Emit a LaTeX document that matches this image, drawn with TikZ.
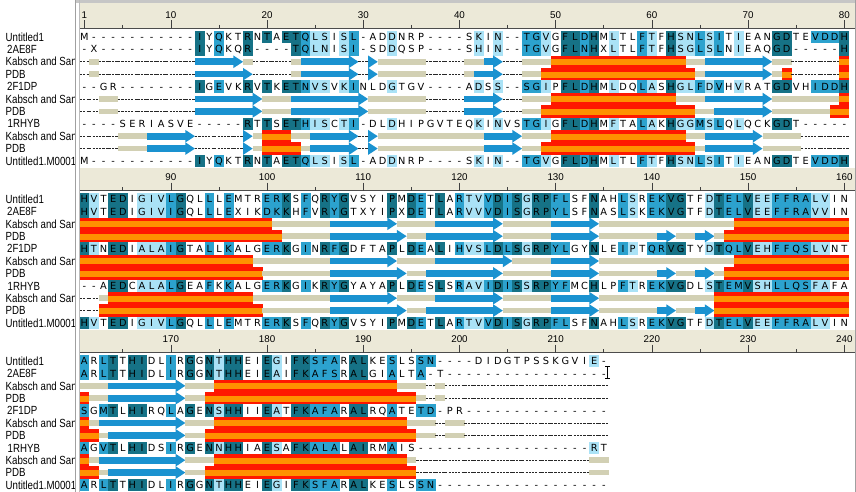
\documentclass[tikz,border=0pt]{standalone}
\usepackage{fontspec}
\setmainfont{DejaVu Sans}
\newfontfamily\labfont[FakeStretch=0.82]{Liberation Sans}
\newfontfamily\numfont{Liberation Sans}
\newfontfamily\resfont{DejaVu Sans}
\definecolor{cdark}{RGB}{22,114,134}
\definecolor{cmed}{RGB}{44,162,206}
\definecolor{clight}{RGB}{170,226,246}
\definecolor{ctan}{RGB}{210,208,180}
\definecolor{cstrand}{RGB}{26,146,208}
\definecolor{chred}{RGB}{255,24,0}
\definecolor{chor}{RGB}{255,145,0}
\definecolor{cruler}{RGB}{236,233,216}
\definecolor{cframe}{RGB}{160,160,160}
\makeatletter
\newcount\rcol
\def\cellw{9.62}
\def\xleft{79.5}
% per-column colour codes (0 none, 1 light, 2 medium, 3 dark)
\def\setcolours#1{\rcol=0 \setcol@loop#1\relax}
\def\setcol@loop#1{\ifx\relax#1\else\advance\rcol by 1 \expandafter\edef\csname cc@\the\rcol\endcsname{#1}\expandafter\setcol@loop\fi}
% residue row
\def\seqrow#1#2{\def\rowy{#1}\rcol=0 \seq@loop#2\relax}
\def\seq@loop#1{\ifx\relax#1\else\advance\rcol by 1 \seq@cell{#1}\expandafter\seq@loop\fi}
\def\seq@cell#1{%
  \pgfmathsetmacro\cx{\xleft+(\the\rcol-1)*\cellw}%
  \if-#1\else
    \ifcsname cc@\the\rcol\endcsname\edef\cc{\csname cc@\the\rcol\endcsname}\else\def\cc{0}\fi
    \ifcase\cc\relax
    \or\fill[clight] (\cx,\rowy-6.2) rectangle (\cx+9.9,\rowy+6.2);
    \or\fill[cmed] (\cx,\rowy-6.2) rectangle (\cx+9.9,\rowy+6.2);
    \or\fill[cdark] (\cx,\rowy-6.2) rectangle (\cx+9.9,\rowy+6.2);
    \fi
  \fi
  \node[res] at (\cx+4.81,\rowy+3.6) {#1};}
% secondary structure row
\def\ssrow#1#2{\def\rowy{#1}\rcol=0 \ss@loop#2\relax}
\def\ss@loop#1{\ifx\relax#1\else\advance\rcol by 1 \ss@cell#1\expandafter\ss@loop\fi}
\def\ss@cell#1{%
  \pgfmathsetmacro\cx{\xleft+(\the\rcol-1)*\cellw}%
  \if-#1\draw[gapdash] (\cx,\rowy) -- (\cx+\cellw,\rowy);\fi
  \if C#1\fill[ctan] (\cx,\rowy-2.8) rectangle (\cx+9.9,\rowy+2.8);\fi
  \if E#1\fill[cstrand] (\cx,\rowy-3.3) rectangle (\cx+9.9,\rowy+3.3);\fi
  \if A#1\fill[cstrand] (\cx,\rowy-6.3) -- (\cx+\cellw,\rowy) -- (\cx,\rowy+6.3) -- cycle;\fi
  \if H#1\fill[chred] (\cx,\rowy-6.25) rectangle (\cx+9.9,\rowy+6.25);\fill[chor] (\cx,\rowy-2.6) rectangle (\cx+9.9,\rowy+3.4);\fi}
\makeatother
\newcommand\alruler[3]{%
  \fill[cruler] (79.5,#1) rectangle (856,#2);
  \draw[draw=black!70, line width=0.7pt] (79.5,#2) -- (856,#2);
  \foreach \k in {1,...,80}{%
    \pgfmathtruncatemacro\g{\k+#3}%
    \pgfmathsetmacro\tx{79.5+(\k-0.5)*9.62}%
    \pgfmathtruncatemacro\mten{mod(\g,10)}%
    \pgfmathtruncatemacro\mfive{mod(\g,5)}%
    \ifnum\mten=0 \def\lng{1}\else\ifnum\g=1 \def\lng{1}\else\def\lng{0}\fi\fi
    \ifnum\lng=1
      \draw[tickline] (\tx,#2-8) -- (\tx,#2);
      \node[rnum] at (\tx,#2-10) {\g};
    \else\ifnum\mfive=0
      \draw[tickline] (\tx,#2-3.5) -- (\tx,#2);
    \fi\fi}}
\newcommand\alabels[1]{%
  \foreach \t/\dx [count=\i from 0] in {Untitled1/5.5, 2AE8F/7, Kabsch and Sander/5.5, PDB/5.5, 2F1DP/7, Kabsch and Sander/5.5, PDB/5.5, 1RHYB/7.5, Kabsch and Sander/5.5, PDB/5.5, Untitled1.M0001/5.5}{%
    \node[lab] (lab#1\i) at (\dx,#1+12.4*\i+4.2) {\t};}}
\begin{document}
\begin{tikzpicture}[x=1pt,y=-1pt,
  res/.style={font=\resfont\fontsize{9.8}{10}\selectfont, inner sep=0pt, anchor=base},
  lab/.style={font=\labfont\fontsize{11.8}{12}\selectfont, inner sep=0pt, anchor=base west},
  rnum/.style={font=\numfont\fontsize{9.8}{10}\selectfont, inner sep=0pt, anchor=base},
  tickline/.style={line width=0.7pt, draw=black!75},
  gapdash/.style={line width=0.85pt, dash pattern=on 2.3pt off 1.2pt, draw=black!85}]
\useasboundingbox (0,0) rectangle (856,492);
\fill[white] (0,0) rectangle (856,492);
% frame
\fill[cframe!60] (75,0) rectangle (856,3);
% ---------------- block 1 ----------------
\alruler{3}{28.5}{0}
\setcolours{0000000000 0030200303 0332110120 0010000000 0101002210 3323010021 0311212010 0033002223}
\seqrow{37}{M-----------IYQKTRNTAETQLSISL-ADDNRP----SKIN--TGVGFLDHMLTLFTFHSNLSITIEANGDTEVDDH}
\seqrow{49.4}{-X----------IYQKQR----TQLNISI-SDDQSP----SHIN--TGVGFLNHXLTLFTFHSGLSLNIEAQGD-----H}
\ssrow{61.8}{-C----------EEEEAC----CEEEEEA-ACCCCC----CCEA--CCCHHHHHHHHHHHHHHCCEEEEEEACC-----H}
\ssrow{74.2}{-C----------EEEEEA----CEEEEEA-ACCCCC----CEEA--CCHHHHHHHHHHHHHHHHCEEEEEEACH-----H}
\seqrow{86.6}{--GR--------IGEVKRVTKETNVSVKINLDGTGV----ADSS--SGIPFLDHMLDQLASHGLFDVHVRATGDVHIDDH}
\ssrow{99}{--CC--------EEEEEEACCCEEEEEEEACCCCCC----EEEA--CCCHHHHHHHHHHHHHCCCEEEEEEACCCCCCCH}
\ssrow{111.4}{--CC--------EEEEEEACCCEEEEEEEACCCCCC----EEEA--CCHHHHHHHHHHHHHHHHCCEEEEEACCCCCCHH}
\seqrow{123.8}{----SERIASVE-----RTTSETHISCTI-DLDHIPGVTEQKINVSTGIGFLDHMFTALAKHGGMSLQLQCKGDT-----}
\ssrow{136.2}{----CCCEEEEA-----ACHHHCCEEEEA-ACCCCCCCCCCCEEEACCCHHHHHHHHHHHHHHCCEEEEEACCCC-----}
\ssrow{148.6}{----CCCEEEEA-----ACHHHHCEEEEA-ACCCCCCCCCCCEEEACCHHHHHHHHHHHHHHHHCEEEEEACCCC-----}
\seqrow{161}{M-----------IYQKTRNTAETQLSISL-ADDNRP----SKIN--TGVGFLDHMLTLFTFHSNLSITIEANGDTEVDDH}
% ---------------- block 2 ----------------
\alruler{167.5}{190.5}{80}
\setcolours{3103301112 3002020002 2302032300 0030320302 1123231332 2003002102 2330013223 1122221100}
\seqrow{199}{HVTEDIGIVLGQLLLEMTRERKSFQRYGVSYIPMDETLARTVVDISGRPFLSFNAHLSREKVGTFDTELVEEFFRALVIN}
\seqrow{211.4}{HVTEDIGIVIGQLLLEXIKDKKHFVRYGTXYIPXDETLARVVVDISGRPYLSFNASLSKEKVGTFDTELVEEFFRAVVIN}
\ssrow{223.8}{HHHHHHHHHHHHHHHHHHHHCCCCCCEEEEEEACCCCEEEEEEACCCCCEEEEACCCCCCCCCCCCCCHHHHHHHHHHHH}
\ssrow{236.2}{HHHHHHHHHHHHHHHHHHHHHCCCCCEEEEEEEACCEEEEEEEACCCCCEEEEACCCCCCEACCEACHHHHHHHHHHHHH}
\seqrow{248.6}{HTNEDIALAIGTALLKALGERKGINRFGDFTAPLDEALIHVSLDLSGRPYLGYNLEIPTQRVGTYDTQLVEHFFQSLVNT}
\ssrow{261}{HHHHHHHHHHHHHHHHHHCCCCCCCCEEEEEEACCCCEEEEEEEACCCCEEEEACCCCCCCCCCCCCCHHHHHHHHHHHH}
\ssrow{273.4}{HHHHHHHHHHHHHHHHHHHCCCCCCCEEEEEEEACCEEEEEEEACCCCCEEEEACCCCCCEACCEACHHHHHHHHHHHHH}
\seqrow{285.8}{--AEDCALALGEAFKKALGERKGIKRYGYAYAPLDESLSRAVIDISSRPYFMCHLPFTREKVGDLSTEMVSHLLQSFAFA}
\ssrow{298.2}{--CHHHHHHHHHHHHHHHCCCCCCCCEEEEEEACCCCEEEEEEACCCCCEEEEACCCCCCCCCCCCHHHHHHHHHHHHHH}
\ssrow{310.6}{--HHHHHHHHHHHHHHHHHCCCCCCCEEEEEEEACCEEEEEEEACCCCCEEEEACCCCCCEACCEAHHHHHHHHHHHHHH}
\seqrow{323}{HVTEDIGIVLGQLLLEMTRERKSFQRYGVSYIPMDETLARTVVDISGRPFLSFNAHLSREKVGTFDTELVEEFFRALVIN}
% ---------------- block 3 ----------------
\alruler{329.5}{352.5}{160}
\setcolours{2023033002 0303133003 1033222033 0020022000 0000000000 00010}
\seqrow{361}{ARLTTHIDLIRGGNTHHEIEGIFKSFARALKESLSSN----DIDGTPSSKGVIE-}
\seqrow{373.4}{ARLTTHIDLIRGGNTHHEIEAIFKAFSRALGIALTA-T-----------------}
\ssrow{385.8}{CCCEEEEEEEACCCHHHHHHHHHHHHHHHHHHHCCC-C-----------------}
\ssrow{398.2}{HCCEEEEEEEACCHHHHHHHHHHHHHHHHHHHHHHC-C-----------------}
\seqrow{410.6}{SGMTLHIRQLAGENSHHIIEATFKAFARALRQATETD-PR---------------}
\ssrow{423}{HCEEEEEEEEACCCHHHHHHHHHHHHHHHHHHHHCCC-CC---------------}
\ssrow{435.4}{HHCEEEEEEEACCHHHHHHHHHHHHHHHHHHHHHHCC-CC---------------}
\seqrow{447.8}{AGVTLHIDSIRGENNHHIAESAFKALALAIRMAIS------------------RT}
\ssrow{460.2}{HCEEEEEEEEACCCHHHHHHHHHHHHHHHHHHHHC------------------CC}
\ssrow{472.6}{HHCEEEEEEEACCHHHHHHHHHHHHHHHHHHHHHH------------------CC}
\seqrow{485}{ARLTTHIDLIRGGNTHHEIEGIFKSFARALKESLSSN------------------}
% text cursor
\draw[line width=0.9pt] (607.5,366.5) -- (607.5,378.5);
\draw[line width=0.8pt] (605,366.5) -- (610,366.5) (605,378.5) -- (610,378.5);
% left label panel
\begin{scope}
\clip (0,0) rectangle (75,492);
\alabels{37}
\alabels{199}
\alabels{361}
\end{scope}
\draw[cframe, line width=0.9pt] (75.4,0) -- (75.4,492);
\draw[cframe!70, line width=0.6pt] (79.2,0) -- (79.2,492);
\draw[cframe, line width=0.8pt] (855.5,0) -- (855.5,492);
\end{tikzpicture}
\end{document}
